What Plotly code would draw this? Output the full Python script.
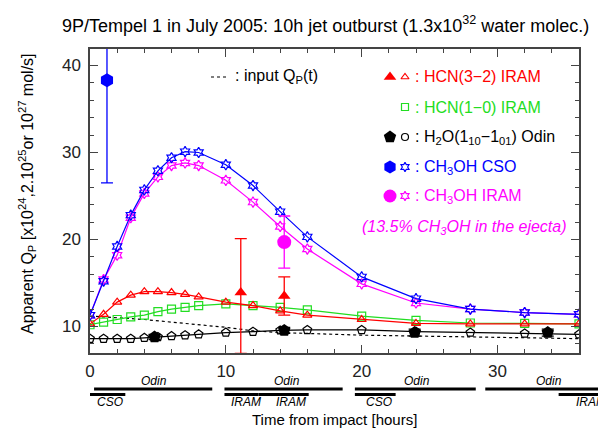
import plotly.graph_objects as go

# ---------------- data ----------------
t_model = [0, 1, 2, 3, 4, 5, 6, 7, 8, 10, 12, 14, 16, 20, 24, 28, 32, 36]
ch3oh_cso_model = [11.3, 15.2, 19.2, 22.8, 25.7, 27.9, 29.4, 30.1, 30.0, 28.6, 26.2, 23.2, 20.3, 15.7, 13.2, 12.0, 11.6, 11.4]
ch3oh_iram_model = [11.3, 15.4, 18.2, 22.5, 25.3, 27.2, 28.5, 28.8, 28.5, 26.8, 24.3, 21.5, 18.9, 14.9, 12.7, 12.0, 11.6, 11.4]
hcn32_model = [10.3, 11.4, 12.8, 13.6, 14.0, 14.0, 13.9, 13.7, 13.4, 12.8, 12.4, 11.8, 11.3, 10.8, 10.35, 10.3, 10.3, 10.3]
hcn10_model = [10.2, 10.5, 10.8, 11.1, 11.3, 11.7, 12.0, 12.2, 12.4, 12.6, 12.4, 12.2, 11.9, 11.2, 10.7, 10.4, 10.35, 10.3]
h2o_model = [8.6, 8.6, 8.6, 8.6, 8.7, 8.8, 8.9, 9.0, 9.1, 9.3, 9.4, 9.55, 9.6, 9.6, 9.4, 9.3, 9.2, 9.1]

t_input = [0, 2, 4, 6, 8, 10, 12, 14, 16, 20, 24, 28, 32, 36]
q_input = [11.2, 11.0, 10.8, 10.5, 10.2, 9.9, 9.5, 9.3, 9.2, 9.0, 8.9, 8.8, 8.7, 8.6]

cso_obs_t, cso_obs_q, cso_obs_err = [1.25], [38.3], [11.8]
iram_ch3oh_obs_t, iram_ch3oh_obs_q, iram_ch3oh_obs_err = [14.3], [19.7], [3.0]
hcn32_obs_t, hcn32_obs_q = [11.1, 14.3], [13.9, 13.5]
hcn32_obs_err_up, hcn32_obs_err_down = [6.2, 2.2], [7.0, 2.2]
h2o_obs_t, h2o_obs_q, h2o_obs_err = [4.75, 14.3, 23.9, 33.7], [8.8, 9.55, 9.3, 9.3], [0.3, 0.35, 0.4, 0.4]

# observing periods (hours)
period_labels = ["Odin", "Odin", "Odin", "Odin", "CSO", "IRAM", "IRAM", "CSO", "IRAM"]
period_start = [0.3, 9.9, 19.5, 29.1, 0.0, 9.9, 12.4, 19.5, 34.5]
period_end = [9.0, 18.6, 28.4, 38.1, 2.6, 12.4, 16.1, 22.5, 38.6]
period_label_t = [4.7, 14.5, 24.1, 33.8, 1.5, 11.5, 14.8, 21.3, 36.9]
period_row = [0, 0, 0, 0, 1, 1, 1, 1, 1]

x_ticks = [0, 10, 20, 30]
y_ticks = [10, 20, 30, 40]
X_MAX = 36

RED = "#ff0000"
GREEN = "#22dd22"
BLACK = "#000000"
BLUE = "#0000ff"
MAG = "#ff00ff"
FONT = "Liberation Sans, Arial, sans-serif"

fig = go.Figure()

fig.add_trace(go.Scatter(x=t_input, y=q_input, mode="lines",
                         line=dict(color=BLACK, width=1.2, dash="dot"), showlegend=False))

def model(y, color, symbol, size=8):
    fig.add_trace(go.Scatter(x=t_model, y=y, mode="lines+markers",
                             line=dict(color=color, width=1.2),
                             marker=dict(symbol=symbol, size=size, color=color,
                                         line=dict(color=color, width=1.2)),
                             showlegend=False))

model(h2o_model, BLACK, "pentagon-open", 9)
model(hcn10_model, GREEN, "square-open", 8)
model(hcn32_model, RED, "triangle-up-open", 8)
model(ch3oh_iram_model, MAG, "hexagram-open", 8)
model(ch3oh_cso_model, BLUE, "hexagram-open", 8)

def obs(t, q, up, down, color, symbol, size):
    fig.add_trace(go.Scatter(x=t, y=q, mode="markers",
                             marker=dict(symbol=symbol, size=size, color=color),
                             error_y=dict(type="data", array=up, arrayminus=down, symmetric=False,
                                          visible=True, color=color, thickness=1.3, width=6),
                             showlegend=False))

obs(h2o_obs_t, h2o_obs_q, h2o_obs_err, h2o_obs_err, BLACK, "pentagon", 13)
obs(hcn32_obs_t, hcn32_obs_q, hcn32_obs_err_up, hcn32_obs_err_down, RED, "triangle-up", 11)
obs(iram_ch3oh_obs_t, iram_ch3oh_obs_q, iram_ch3oh_obs_err, iram_ch3oh_obs_err, MAG, "circle", 14)
obs(cso_obs_t, cso_obs_q, cso_obs_err, cso_obs_err, BLUE, "hexagon", 14)

# ---------------- legend (overlay axes in paper units) ----------------
L, R, T, B = 82, 571, 41, 345
def px(p): return (p - L) / (R - L)
def py(p): return (B - p) / (B - T)

leg_rows_y = [69, 99, 129, 159, 188]
leg_texts = ["HCN(3\u22122) IRAM", "HCN(1\u22120) IRAM",
             "H<sub>2</sub>O(1<sub>10</sub>\u22121<sub>01</sub>) Odin",
             "CH<sub>3</sub>OH CSO", "CH<sub>3</sub>OH IRAM"]
leg_colors = [RED, GREEN, BLACK, BLUE, MAG]
leg_filled = ["triangle-up", None, "pentagon", "hexagon", "circle"]
leg_filled_size = [11, 0, 13, 13, 13]
leg_open = ["triangle-up-open", "square-open", "circle-open", "hexagram-open", "hexagram-open"]

for yy, fs, fsz, op, col in zip(leg_rows_y, leg_filled, leg_filled_size, leg_open, leg_colors):
    if fs:
        fig.add_trace(go.Scatter(x=[px(382)], y=[py(yy)], mode="markers", xaxis="x2", yaxis="y2",
                                 marker=dict(symbol=fs, size=fsz, color=col), showlegend=False))
    fig.add_trace(go.Scatter(x=[px(397)], y=[py(yy)], mode="markers", xaxis="x2", yaxis="y2",
                             marker=dict(symbol=op, size=7, color=col, line=dict(color=col, width=1.2)),
                             showlegend=False))
fig.add_trace(go.Scatter(x=[px(203), px(221)], y=[py(69), py(69)], mode="lines", xaxis="x2", yaxis="y2",
                         line=dict(color=BLACK, width=1.2, dash="dot"), showlegend=False))

annotations = []
for yy, txt, col in zip(leg_rows_y, leg_texts, leg_colors):
    annotations.append(dict(x=px(405), y=py(yy), xref="paper", yref="paper", xanchor="left",
                            yanchor="middle", showarrow=False, text=": " + txt,
                            font=dict(family=FONT, size=16, color=col)))
annotations.append(dict(x=px(225), y=py(69), xref="paper", yref="paper", xanchor="left",
                        yanchor="middle", showarrow=False, text=": input Q<sub>P</sub>(t)",
                        font=dict(family=FONT, size=16, color=BLACK)))
annotations.append(dict(x=px(561), y=py(219), xref="paper", yref="paper", xanchor="right",
                        yanchor="middle", showarrow=False,
                        text="<i>(13.5% CH<sub>3</sub>OH in the ejecta)</i>",
                        font=dict(family=FONT, size=16, color=MAG)))
annotations.append(dict(x=px(317), y=py(17), xref="paper", yref="paper", xanchor="center",
                        yanchor="middle", showarrow=False,
                        text="9P/Tempel 1 in July 2005: 10h jet outburst (1.3x10<sup>32</sup> water molec.)",
                        font=dict(family=FONT, size=18, color=BLACK)))
annotations.append(dict(x=px(19), y=py(186), xref="paper", yref="paper", xanchor="center",
                        yanchor="middle", showarrow=False, textangle=-90,
                        text="Apparent Q<sub>P</sub> [x10<sup>24</sup>,2.10<sup>25</sup>or 10<sup>27</sup> mol/s]",
                        font=dict(family=FONT, size=16, color=BLACK)))
annotations.append(dict(x=px(326), y=py(411), xref="paper", yref="paper", xanchor="center",
                        yanchor="middle", showarrow=False, text="Time from impact [hours]",
                        font=dict(family=FONT, size=15, color=BLACK)))

shapes = []
bar_y = [py(381), py(386.5)]
lab_y = [py(373), py(394)]
for lab, s, e, lt, r in zip(period_labels, period_start, period_end, period_label_t, period_row):
    shapes.append(dict(type="line", xref="paper", yref="paper", x0=s / X_MAX, x1=e / X_MAX,
                       y0=bar_y[r], y1=bar_y[r], line=dict(color=BLACK, width=3)))
    annotations.append(dict(x=lt / X_MAX, y=lab_y[r], xref="paper", yref="paper",
                            xanchor="center", yanchor="middle", showarrow=False,
                            text="<i>" + lab + "</i>",
                            font=dict(family=FONT, size=12, color=BLACK)))

axis_common = dict(showgrid=False, zeroline=False, showline=True, linecolor="#444", linewidth=1.5,
                   mirror="allticks", ticks="inside", ticklen=8, tickcolor="#444", tickwidth=1,
                   tickfont=dict(family=FONT, size=17, color="#222"))

fig.update_layout(
    width=606, height=428,
    margin=dict(l=L, r=606 - R, t=T, b=428 - B),
    paper_bgcolor="white", plot_bgcolor="white",
    showlegend=False,
    xaxis=dict(range=[0, X_MAX], tickvals=x_ticks, ticktext=[str(v) for v in x_ticks],
               minor=dict(dtick=2, ticks="inside", ticklen=4, tickcolor="#444"),
               ticklabelstandoff=2, **axis_common),
    yaxis=dict(range=[6.95, 41.9], tickvals=y_ticks, ticktext=[str(v) for v in y_ticks],
               minor=dict(dtick=2, ticks="inside", ticklen=4, tickcolor="#444"),
               ticklabelstandoff=4, **axis_common),
    xaxis2=dict(overlaying="x", range=[0, 1], visible=False),
    yaxis2=dict(overlaying="y", range=[0, 1], visible=False),
    shapes=shapes,
    annotations=annotations,
)

fig.write_html("out.html")
